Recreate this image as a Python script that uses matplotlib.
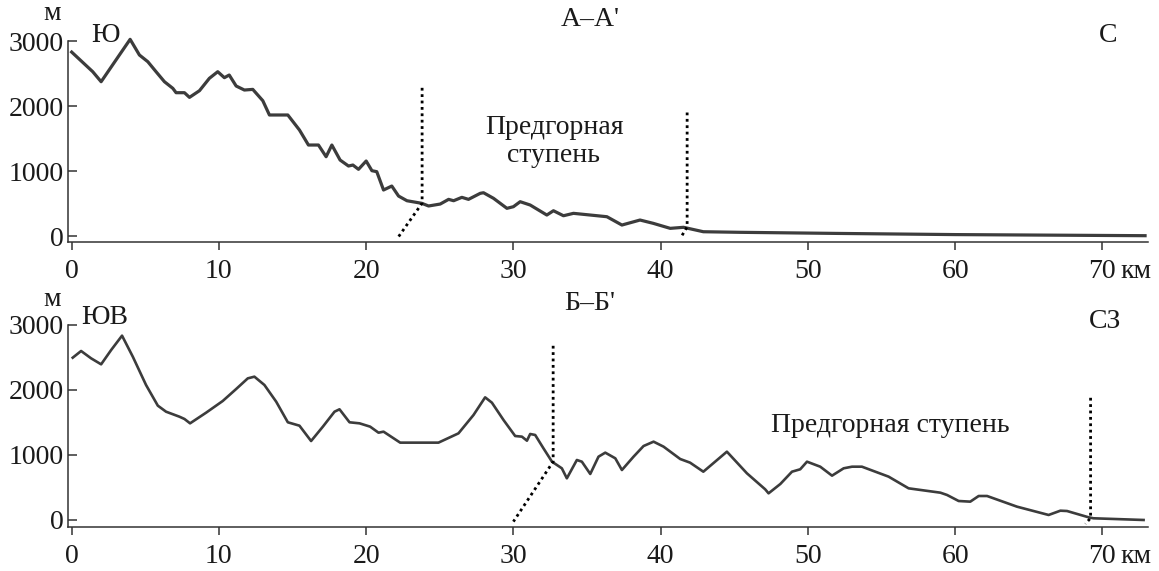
import matplotlib
matplotlib.use("Agg")
import matplotlib.pyplot as plt

# ---- Profile A-A' (top) ----
a_km = [0.0, 1.43, 2.0, 3.24, 3.97, 4.6, 5.17, 5.73, 6.3, 6.87, 7.09, 7.66, 8.0, 8.68,
        9.35, 9.92, 10.37, 10.7, 11.17, 11.73, 12.3, 12.98, 13.43, 14.68, 15.47, 16.08,
        16.76, 17.28, 17.67, 18.23, 18.8, 19.1, 19.48, 20.0, 20.39, 20.72, 21.18, 21.74,
        22.2, 22.77, 23.78, 24.24, 25.03, 25.6, 25.94, 26.5, 26.95, 27.75, 27.97, 28.65,
        29.56, 30.0, 30.46, 31.14, 32.27, 32.72, 33.4, 34.08, 36.35, 37.37, 38.6, 39.5,
        40.65, 41.55, 42.9, 45.4, 52.0, 60.0, 72.9]
a_elev = [2830, 2528, 2374, 2785, 3026, 2785, 2682, 2528, 2374, 2272, 2205, 2205, 2133, 2236,
          2426, 2528, 2436, 2477, 2308, 2246, 2256, 2082, 1862, 1862, 1631, 1400,
          1400, 1220, 1400, 1169, 1077, 1092, 1026, 1154, 1005, 990, 708, 769,
          615, 543, 503, 462, 492, 564, 543, 595, 564, 657, 666, 580,
          426, 451, 528, 477, 323, 389, 312, 349, 297, 169, 246, 195,
          118, 134, 66, 57, 40, 22, 5]

# ---- Profile B-B' (bottom) ----
b_km = [0.07, 0.64, 1.32, 2.0, 2.68, 3.42, 4.15, 5.05, 5.85, 6.41, 7.32, 7.66, 8.04, 9.13,
        10.26, 11.17, 11.96, 12.41, 13.09, 13.89, 14.68, 15.47, 16.26, 17.06, 17.85, 18.19,
        18.87, 19.55, 20.27, 20.84, 21.18, 22.31, 24.91, 26.27, 27.29, 28.08, 28.54, 29.33,
        30.12, 30.58, 30.92, 31.14, 31.48, 32.04, 32.62, 33.29, 33.63, 34.31, 34.65, 35.22,
        35.78, 36.24, 36.92, 37.37, 38.16, 38.84, 39.52, 40.2, 41.33, 42.0, 42.9, 44.5,
        45.86, 47.1, 47.33, 48.13, 48.92, 49.48, 49.94, 50.84, 51.64, 52.43, 53.0, 53.67,
        55.48, 56.84, 59.0, 59.45, 60.24, 61.03, 61.6, 62.17, 64.2, 66.35, 67.15, 67.6,
        69.07, 69.4, 72.8]
b_elev = [2497, 2600, 2487, 2395, 2615, 2836, 2513, 2077, 1759, 1666, 1589, 1554, 1487, 1651,
          1831, 2015, 2179, 2205, 2077, 1820, 1503, 1451, 1215, 1436, 1666, 1703,
          1503, 1487, 1436, 1343, 1359, 1190, 1190, 1333, 1615, 1887, 1805, 1538,
          1292, 1282, 1220, 1323, 1308, 1103, 897, 795, 641, 923, 897, 708,
          974, 1036, 949, 769, 974, 1138, 1205, 1128, 938, 882, 743, 1051,
          718, 472, 410, 554, 743, 780, 897, 820, 682, 795, 820, 820,
          667, 487, 420, 385, 292, 282, 369, 369, 205, 77, 143, 138,
          41, 26, 0]

# dotted boundary lines (km, m)
a_dot1_km = [23.8, 23.8, 22.2]
a_dot1_m = [2280, 505, -10]
a_dot2_km = [41.8, 41.8, 41.35]
a_dot2_m = [1900, 140, -30]
b_dot1_km = [32.7, 32.7, 30.0]
b_dot1_m = [2680, 897, -25]
b_dot2_km = [69.2, 69.2, 68.85]
b_dot2_m = [1880, 30, -60]

x_ticks = [0, 10, 20, 30, 40, 50, 60, 70]
x_ticklabels = ["0", "10", "20", "30", "40", "50", "60", "70"]
y_ticks = [0, 1000, 2000, 3000]
y_ticklabels = ["0", "1000", "2000", "3000"]

W, H = 1159, 571
plt.rcParams['font.family'] = ['Liberation Serif', 'DejaVu Serif']
fig = plt.figure(figsize=(W / 100, H / 100), dpi=100)

line_col = '#3c3c3c'
FS = 20
XLEN, XPAD = 6, 6

def px(x, y):
    return x / W, 1 - y / H

def setup(ax, ylim):
    ax.set_xlim(-0.25, 73.1)
    ax.set_ylim(*ylim)
    for s in ['top', 'right']:
        ax.spines[s].set_visible(False)
    for s in ['left', 'bottom']:
        ax.spines[s].set_color('#333333')
        ax.spines[s].set_linewidth(1.1)
    ax.set_xticks(x_ticks)
    ax.set_xticklabels(x_ticklabels, fontsize=FS, color='#1a1a1a')
    ax.set_yticks(y_ticks)
    ax.set_yticklabels(y_ticklabels, fontsize=FS, color='#1a1a1a')
    ax.tick_params(axis='x', direction='out', length=XLEN, width=1.1, color='#333333', pad=XPAD)
    ax.tick_params(axis='y', direction='in', length=6.5, width=1.1, color='#333333', pad=3)
    ax.annotate("км", xy=(70, 0), xycoords=('data', 'axes fraction'),
                xytext=(13, -(XLEN + XPAD)), textcoords='offset points',
                ha='left', va='top', fontsize=FS, color='#1a1a1a', annotation_clip=False)

ax1 = fig.add_axes([68 / W, 1 - 242 / H, 1080 / W, (242 - 40.7) / H])
setup(ax1, (-92, 3005))
ax1.plot(a_km, a_elev, color=line_col, lw=2.3, solid_joinstyle='round', clip_on=False)
ax1.plot(a_dot1_km, a_dot1_m, color='black', lw=2, linestyle=(0, (1, 1.3)), clip_on=False)
ax1.plot(a_dot2_km, a_dot2_m, color='black', lw=2, linestyle=(0, (1, 1.3)), clip_on=False)

ax2 = fig.add_axes([68 / W, 1 - 527 / H, 1080 / W, (527 - 325) / H])
setup(ax2, (-108, 3000))
ax2.plot(b_km, b_elev, color=line_col, lw=1.9, solid_joinstyle='round', clip_on=False)
ax2.plot(b_dot1_km, b_dot1_m, color='black', lw=2, linestyle=(0, (1, 1.3)), clip_on=False)
ax2.plot(b_dot2_km, b_dot2_m, color='black', lw=2, linestyle=(0, (1, 1.3)), clip_on=False)

tc = '#1a1a1a'
def ftext(x, y, s, **kw):
    fig.text(*px(x, y), s, fontsize=FS, color=tc, ha='center', va='center', **kw)

ftext(52, 14, "м")
ftext(105, 35, "Ю")
ftext(590, 19, "А–А'")
ftext(1108, 36, "С")
ftext(555, 127, "Предгорная")
ftext(554, 156, "ступень")

ftext(52, 299, "м")
ftext(105, 318, "ЮВ")
ftext(590, 304, "Б–Б'")
ftext(1105, 322, "СЗ")
ftext(890, 426, "Предгорная ступень")

fig.savefig("out.png", dpi=100)
